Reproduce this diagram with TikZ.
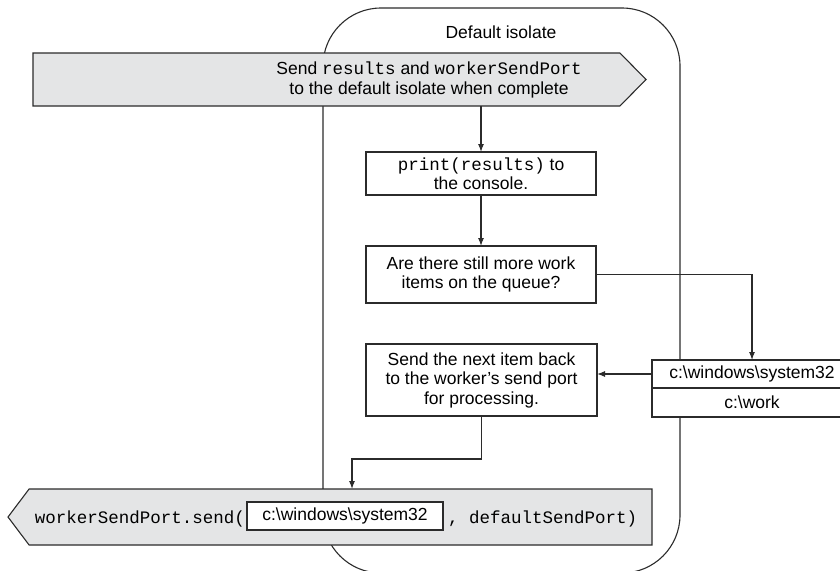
\documentclass[tikz,border=0pt]{standalone}
\usepackage{fontspec}
\setmainfont{Liberation Sans}
\setmonofont{Liberation Mono}
\usepackage{tikz}
\usetikzlibrary{shapes.symbols, arrows.meta, positioning}
\definecolor{bannerfill}{HTML}{E4E5E6}
\definecolor{inkgray}{HTML}{2B2B2B}

\begin{document}
\begin{tikzpicture}[
    x=1pt, y=-1pt,
    every node/.style = {font=\fontsize{17.5}{19.5}\selectfont},
    isolate/.style  = {rectangle, rounded corners=58pt, draw=inkgray, line width=1.1pt,
                       minimum width=357pt, minimum height=565pt},
    banner/.style   = {signal, draw=inkgray, line width=1.1pt, fill=bannerfill,
                       inner sep=0pt, outer sep=0pt, signal from=nowhere},
    stepbox/.style  = {rectangle, draw=inkgray, line width=1.1pt, fill=white,
                       align=center, inner sep=0pt, outer sep=0pt},
    lbl/.style      = {inner sep=0pt},
    arr/.style      = {-{Latex[length=8pt,width=6pt]}, line width=1.1pt, color=inkgray}
  ]

  \useasboundingbox (0,0) rectangle (840,570);
  \clip (0,0) rectangle (840,570);

  % ── Default isolate ────────────────────────────────────────────────────────
  \node[isolate] (isolate) at (501.5, 290.5) {};
  \node[lbl] (isolatelbl) at (501, 32) {Default isolate};

  % ── Incoming message banner ────────────────────────────────────────────────
  \node[banner, signal to=east, signal pointer angle=91, anchor=west,
        minimum width=613pt, minimum height=53pt] (topbar) at (33, 79.5) {};
  \node[lbl, align=center] (toptext) at (429, 80)
    {Send \texttt{results} and \texttt{workerSendPort}\\to the default isolate when complete};

  % ── Steps ──────────────────────────────────────────────────────────────────
  \node[stepbox, minimum width=230pt, minimum height=43pt] (printbox) at (481, 173.5)
    {\texttt{print(results)} to\\the console.};
  \node[stepbox, minimum width=230pt, minimum height=57pt] (queuebox) at (481, 274.5)
    {Are there still more work\\items on the queue?};
  \node[stepbox, minimum width=231pt, minimum height=72pt] (nextbox) at (481.5, 380)
    {Send the next item back\\to the worker's send port\\for processing.};

  % ── Work queue ─────────────────────────────────────────────────────────────
  \node[stepbox, minimum width=200pt, minimum height=28pt] (winpath) at (752, 374)
    {c:\textbackslash{}windows\textbackslash{}system32};
  \node[stepbox, minimum width=200pt, minimum height=29pt, below=0pt of winpath] (workpath)
    {c:\textbackslash{}work};

  % ── Outgoing message banner ────────────────────────────────────────────────
  \node[banner, signal to=west, signal pointer angle=106, anchor=east,
        minimum width=644pt, minimum height=56pt] (botbar) at (652, 517) {};
  \node[stepbox, minimum width=196pt, minimum height=28pt] (argbox) at (345, 516)
    {c:\textbackslash{}windows\textbackslash{}system32};
  \node[lbl, anchor=base east] (sendcall) at (245, 523) {\texttt{workerSendPort.send(}};
  \node[lbl, anchor=base west] (sendtail) at (448, 523) {\texttt{, defaultSendPort)}};

  % ── Arrows ─────────────────────────────────────────────────────────────────
  \coordinate (turn) at (352, 459);
  \draw[arr] (printbox.north |- topbar.south) -- (printbox.north);
  \draw[arr] (printbox.south) -- (queuebox.north);
  \draw[arr] (queuebox.east) -| (winpath.north);
  \draw[arr] (winpath.west) -- (nextbox.east |- winpath.west);
  \draw[arr] (nextbox.south) |- (turn) -- (turn |- botbar.north);

\end{tikzpicture}
\end{document}
